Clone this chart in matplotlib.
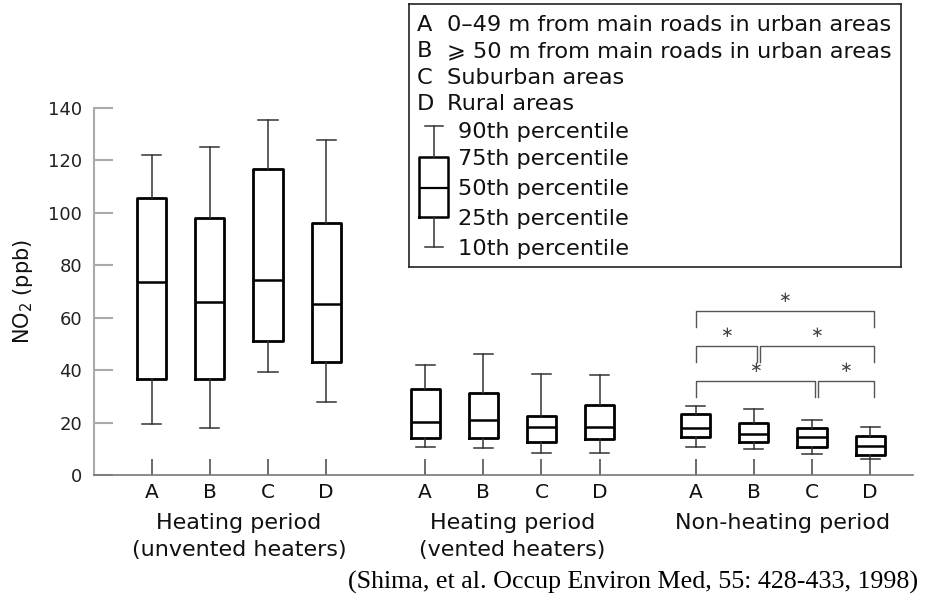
import matplotlib.pyplot as plt
from matplotlib import transforms

plt.rcParams['font.family'] = ['DejaVu Sans', 'Noto Sans']

sites = ["A", "B", "C", "D"]
periods = ["Heating period\n(unvented heaters)",
           "Heating period\n(vented heaters)",
           "Non-heating period"]

# percentiles of NO2 (ppb), one row per period, one column per site
p10 = [[19.4, 17.8, 39.4, 28.0], [10.8, 10.4, 8.5, 8.5], [10.8, 10.0, 8.1, 6.0]]
p25 = [[36.7, 36.7, 51.0, 43.0], [14.2, 14.2, 12.7, 13.8], [14.3, 12.7, 10.8, 7.5]]
p50 = [[73.7, 65.9, 74.3, 65.0], [20.3, 21.0, 18.4, 18.4], [18.1, 15.7, 14.4, 11.1]]
p75 = [[105.7, 98.0, 116.5, 96.0], [32.7, 31.1, 22.5, 26.8], [23.2, 19.8, 17.8, 14.7]]
p90 = [[122.0, 124.9, 135.3, 127.7], [42.0, 46.1, 38.4, 38.0], [26.4, 25.2, 20.8, 18.2]]

# significant differences within the non-heating period
sig_pairs = [("A", "D"), ("A", "B"), ("B", "D"), ("A", "C"), ("C", "D")]
sig_levels = [2, 1, 1, 0, 0]

key_text = ["0\u201349 m from main roads in urban areas",
            "\u2a7e 50 m from main roads in urban areas",
            "Suburban areas",
            "Rural areas"]
pct_text = ["90th percentile", "75th percentile", "50th percentile",
            "25th percentile", "10th percentile"]

citation = "(Shima, et al. Occup Environ Med, 55: 428-433, 1998)"

W, H = 933, 595
fig = plt.figure(figsize=(W / 100, H / 100), dpi=100)
ax = fig.add_axes([94 / W, (H - 475) / H, (913 - 94) / W, (475 - 107.7) / H])

group_start = [0, 4.70, 9.35]

stats, positions = [], []
for g in range(len(periods)):
    for i in range(len(sites)):
        stats.append(dict(whislo=p10[g][i], q1=p25[g][i], med=p50[g][i],
                          q3=p75[g][i], whishi=p90[g][i], fliers=[]))
        positions.append(group_start[g] + i)

ax.bxp(stats, positions=positions, widths=0.5, capwidths=0.33,
       showfliers=False, manage_ticks=False,
       boxprops=dict(color="black", linewidth=2.0),
       medianprops=dict(color="black", linewidth=1.8),
       whiskerprops=dict(color="#333333", linewidth=1.1),
       capprops=dict(color="#333333", linewidth=1.1))

ax.set_xlim(-0.991, 13.086)
ax.set_ylim(0, 140)
ax.set_yticks(range(0, 141, 20))
ax.set_xticks(positions, sites * len(periods))

for s in ["top", "right"]:
    ax.spines[s].set_visible(False)
ax.spines["left"].set_color("#aaaaaa")
ax.spines["left"].set_linewidth(1.5)
ax.spines["bottom"].set_color("#777777")
ax.spines["bottom"].set_linewidth(1.2)
ax.tick_params(axis="x", direction="in", length=11.5, width=1.1,
               color="#444444", labelsize=14.5, pad=6, labelcolor="#111111")
ax.tick_params(axis="y", direction="in", length=13.4, width=1.5,
               color="#aaaaaa", labelsize=13, pad=8.5, labelcolor="#222222")

# significance brackets
base_h, step_h, leg = 35.8, 13.4, 6.0
g0 = group_start[2]
for (a, b), lev in zip(sig_pairs, sig_levels):
    x1 = g0 + sites.index(a)
    x2 = g0 + sites.index(b) + 0.06
    if a != sites[0]:
        x1 += 0.1
    h = base_h + lev * step_h
    ax.plot([x1, x1, x2, x2], [h - leg, h, h, h - leg], color="#555555",
            linewidth=1.0, clip_on=False)
    ax.text((x1 + x2) / 2, h + 5.0, "\u2217", ha="center", va="center",
            fontsize=11, color="#444444")

# period labels under the axis
tr = transforms.blended_transform_factory(ax.transData, fig.transFigure)
for g, name in enumerate(periods):
    xc = group_start[g] + (len(sites) - 1) / 2
    for k, line in enumerate(name.split("\n")):
        ax.text(xc, 1 - (529.3 + 26.6 * k) / H, line, transform=tr,
                ha="center", va="baseline", fontsize=16, color="#111111")

fig.text(23 / W, 1 - 291 / H, "NO$_2$ (ppb)", rotation=90, ha="center",
         va="center", fontsize=15, color="#111111")
fig.text(918 / W, 1 - 588.3 / H, citation, ha="right", va="baseline",
         family="Liberation Serif", fontsize=18.7)

# key box
lx0, lx1, ly0, ly1 = 409.3, 901, 4, 266.7
lax = fig.add_axes([lx0 / W, 1 - ly1 / H, (lx1 - lx0) / W, (ly1 - ly0) / H])
lax.set_xticks([])
lax.set_yticks([])
for s in lax.spines.values():
    s.set_linewidth(1.2)
    s.set_color("#222222")
for i, (letter, txt) in enumerate(zip(sites, key_text)):
    y = 23 + 26.4 * i + 8
    lax.text(417, y, letter, va="baseline", fontsize=16.2, color="#111111")
    lax.text(446.7, y, txt, va="baseline", fontsize=16.2, color="#111111")
pct_y = [130, 157, 187, 217, 247]
for y, txt in zip(pct_y, pct_text):
    lax.text(458.3, y + 8, txt, va="baseline", fontsize=16.2, color="#111111")
lax.bxp([dict(whislo=247.3, q1=217.3, med=187.7, q3=156.7, whishi=126, fliers=[])],
        positions=[433.8], widths=29, capwidths=18, showfliers=False,
        manage_ticks=False,
        boxprops=dict(color="black", linewidth=1.8),
        medianprops=dict(color="black", linewidth=1.6),
        whiskerprops=dict(color="#333333", linewidth=1.1),
        capprops=dict(color="#333333", linewidth=1.1))
lax.set_xlim(lx0, lx1)
lax.set_ylim(ly1, ly0)

fig.savefig("out.png", dpi=100)
